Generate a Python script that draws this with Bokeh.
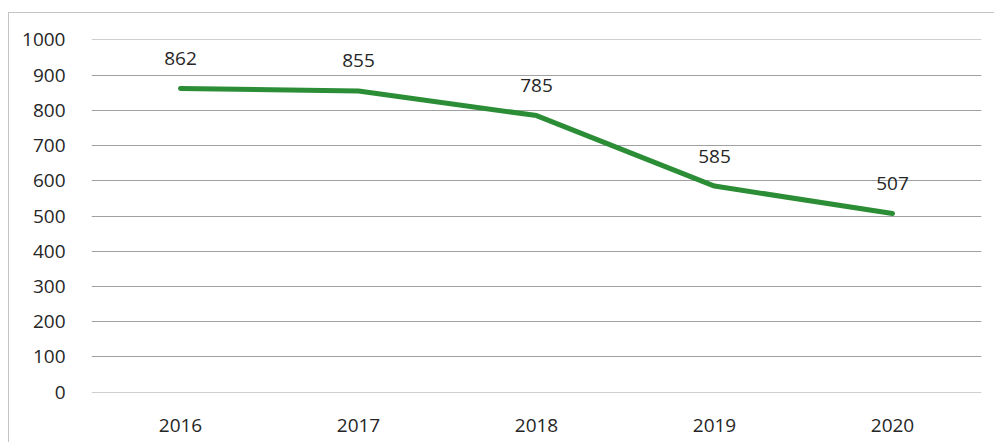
from bokeh.plotting import figure
from bokeh.models import ColumnDataSource, Range1d, FactorRange, SingleIntervalTicker
from bokeh.core.properties import value
from bokeh.embed import file_html
from bokeh.resources import INLINE

years = ["2016", "2017", "2018", "2019", "2020"]
counts = [862, 855, 785, 585, 507]
labels = [str(c) for c in counts]

FONT = "Open Sans"
TXT = "#262626"

src = ColumnDataSource(dict(x=years, y=counts, t=labels))

p = figure(width=986, height=430, output_backend="svg", toolbar_location=None,
           x_range=FactorRange(*years, range_padding=0), y_range=Range1d(-1, 1001),
           min_border_left=82, min_border_right=14, min_border_top=26, min_border_bottom=51)
p.styles = {"margin-left": "8px", "margin-top": "12px",
            "border-left": "1px solid #c4c4c4", "border-top": "1px solid #c4c4c4"}
p.outline_line_color = None
p.background_fill_color = "white"
p.border_fill_color = "white"

p.line("x", "y", source=src, line_color="#2b8d36", line_width=5, line_join="round", line_cap="round")
p.text("x", "y", text="t", source=src, y_offset=-30, text_align="center", text_baseline="middle",
       text_font=value(FONT), text_font_size="19px", text_color=TXT)

p.yaxis.ticker = SingleIntervalTicker(interval=100)
for ax in (p.xaxis[0], p.yaxis[0]):
    ax.axis_line_color = None
    ax.major_tick_line_color = None
    ax.minor_tick_line_color = None
    ax.major_label_text_font = FONT
    ax.major_label_text_font_size = "19px"
    ax.major_label_text_color = TXT
p.yaxis.major_label_standoff = 20
p.xaxis.major_label_standoff = 20

p.xgrid.grid_line_color = None
p.ygrid.grid_line_color = "#a0a0a0"
p.ygrid.grid_line_width = 1

open("out.html", "w").write(file_html(p, INLINE))
